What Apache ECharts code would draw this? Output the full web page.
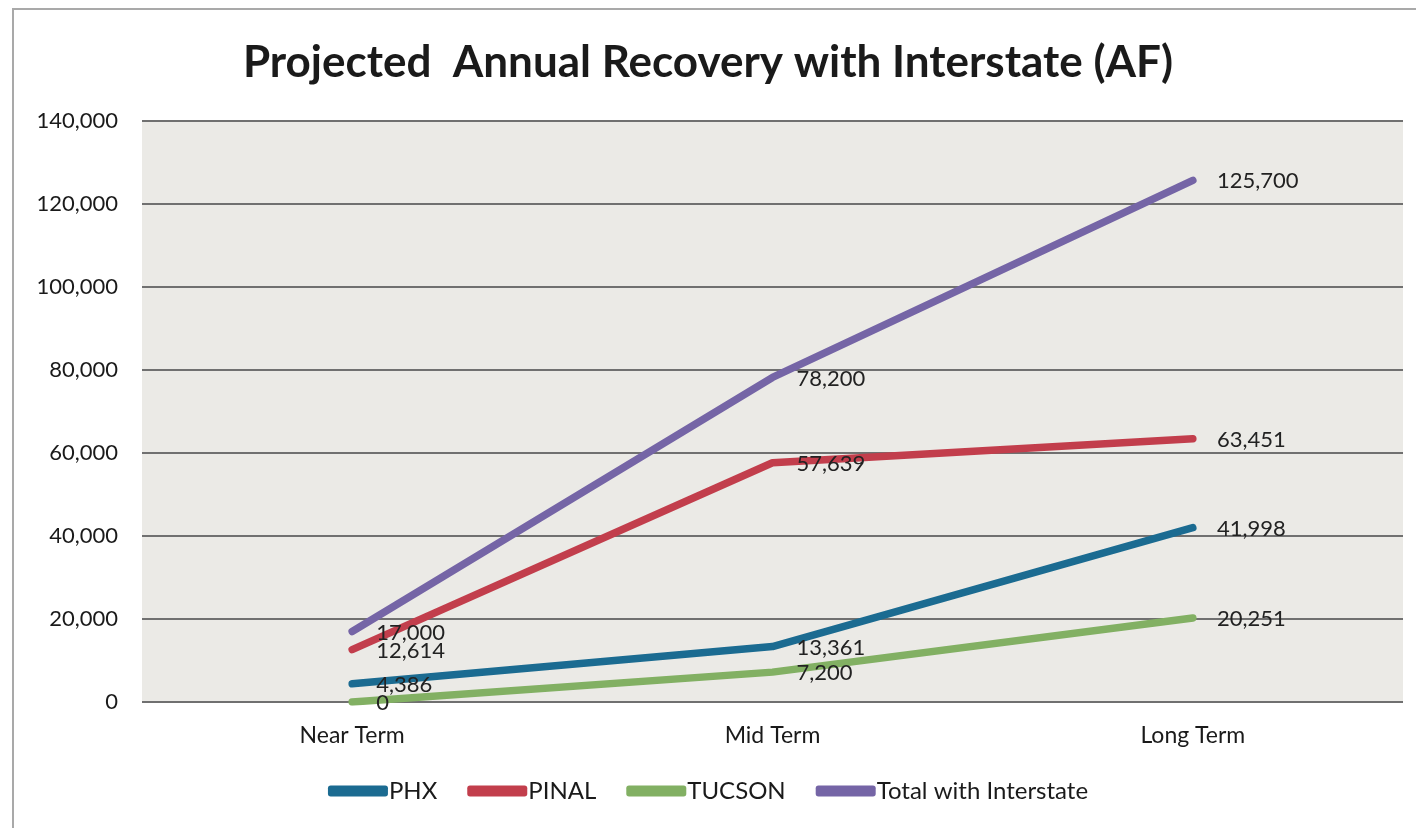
<!DOCTYPE html>
<html>
<head>
<meta charset="utf-8">
<script src="https://cdn.jsdelivr.net/npm/echarts@6/dist/echarts.min.js"></script>
<style>
  html, body { margin: 0; padding: 0; background: #fff; }
  #frame {
    position: absolute; left: 12px; top: 8px; width: 1430px; height: 840px;
    border: 2px solid #a9a9a9; box-sizing: border-box;
  }
  #chart { position: absolute; left: 0; top: 0; width: 1416px; height: 828px; }
</style>
</head>
<body>
<div id="frame"></div>
<div id="chart"></div>
<script>
// 数据
const categories = ["Near Term", "Mid Term", "Long Term"];
const phx = [4386, 13361, 41998];
const pinal = [12614, 57639, 63451];
const tucson = [0, 7200, 20251];
const totalInterstate = [17000, 78200, 125700];

const font = "Lato, 'Open Sans', sans-serif";

const chart = echarts.init(document.getElementById("chart"));

const makeSeries = (name, data, color) => ({
  name,
  type: "line",
  data,
  symbol: "circle",
  symbolSize: 0.1,
  showSymbol: true,
  lineStyle: { color, width: 7.5, cap: "round", join: "round" },
  itemStyle: { color },
  label: {
    show: true,
    position: "right",
    distance: 24,
    offset: [0, 1],
    fontFamily: font,
    fontSize: 22,
    color: "#222",
    formatter: (p) => p.value.toLocaleString("en-US"),
  },
});

const option = {
  animation: false,
  backgroundColor: "transparent",
  title: {
    text: "Projected  Annual Recovery with Interstate (AF)",
    left: "center",
    top: 36,
    textStyle: { fontFamily: font, fontSize: 44, fontWeight: "bold", color: "#1a1a1a" },
  },
  legend: {
    bottom: 20,
    left: "center",
    itemWidth: 60,
    itemHeight: 11,
    itemGap: 30,
    icon: "roundRect",
    textStyle: { fontFamily: font, fontSize: 24, color: "#1a1a1a", padding: [0, 0, 0, -4] },
    data: ["PHX", "PINAL", "TUCSON", "Total with Interstate"],
  },
  grid: {
    left: 142,
    right: 13,
    top: 121,
    bottom: 126,
    show: true,
    backgroundColor: "#ebeae6",
    borderWidth: 0,
  },
  xAxis: {
    type: "category",
    data: categories,
    boundaryGap: true,
    axisLine: { show: false },
    axisTick: { show: false },
    axisLabel: { fontFamily: font, fontSize: 23, color: "#1a1a1a", margin: 22 },
  },
  yAxis: {
    type: "value",
    min: 0,
    max: 140000,
    interval: 20000,
    axisLine: { show: false },
    axisTick: { show: false },
    axisLabel: {
      fontFamily: font, fontSize: 22, color: "#1a1a1a", margin: 24,
      formatter: (v) => v.toLocaleString("en-US"),
    },
    splitLine: { lineStyle: { color: "#707070", width: 2 } },
  },
  series: [
    makeSeries("PHX", phx, "#1b6b91"),
    makeSeries("PINAL", pinal, "#c23e4c"),
    makeSeries("TUCSON", tucson, "#82b063"),
    makeSeries("Total with Interstate", totalInterstate, "#7565a6"),
  ],
};

chart.setOption(option);
window.addEventListener("resize", () => chart.resize());
</script>
</body>
</html>
